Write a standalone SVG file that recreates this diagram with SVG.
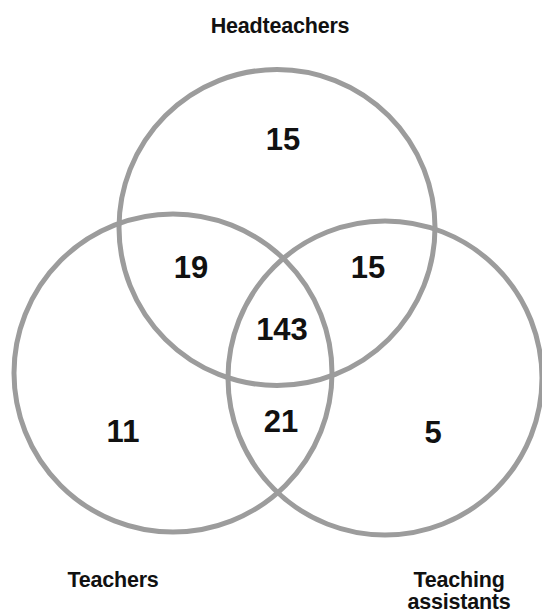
<svg xmlns="http://www.w3.org/2000/svg" width="542" height="613" viewBox="0 0 542 613">
<style>
.set{fill:none;stroke:#9c9c9c;stroke-width:5}
.lbl{font-family:"Liberation Sans",Arial,sans-serif;font-weight:bold;font-size:21.5px;letter-spacing:-0.2px;fill:#111;text-anchor:middle}
.num{font-family:"Liberation Sans",Arial,sans-serif;font-weight:bold;font-size:31px;fill:#111;text-anchor:middle}
</style>
<rect width="542" height="613" fill="#fff"/>
<g id="headteachers">
<circle class="set" cx="277" cy="227.5" r="158"/>
<text class="lbl" x="280" y="33">Headteachers</text>
</g>
<g id="teachers">
<circle class="set" cx="173" cy="373" r="159"/>
<text class="lbl" x="113" y="587">Teachers</text>
</g>
<g id="teaching-assistants">
<circle class="set" cx="385" cy="378" r="157"/>
<text class="lbl" x="459" y="587">Teaching</text>
<text class="lbl" x="459" y="609">assistants</text>
</g>
<g id="counts">
<text class="num" x="283" y="150">15</text>
<text class="num" x="191" y="278">19</text>
<text class="num" x="368" y="278">15</text>
<text class="num" x="282" y="340">143</text>
<text class="num" x="281" y="432">21</text>
<text class="num" x="123" y="442">11</text>
<text class="num" x="433" y="443">5</text>
</g>
</svg>
